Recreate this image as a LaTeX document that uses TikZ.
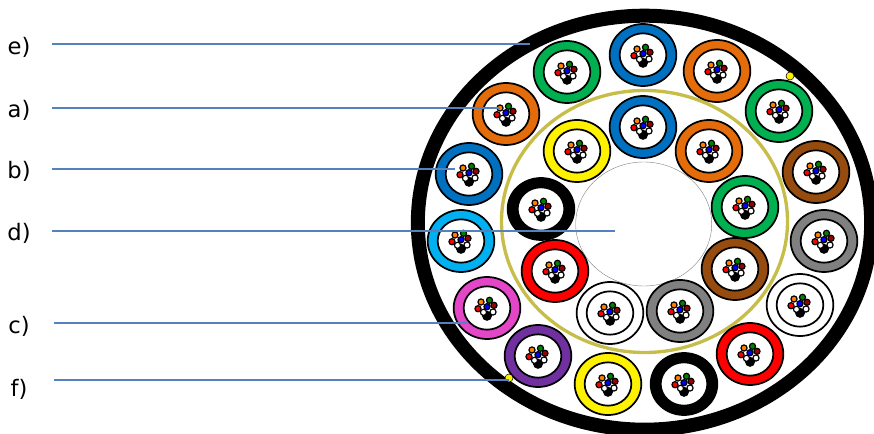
\documentclass[tikz,border=0pt]{standalone}
\usepackage{fontspec}
\setmainfont{DejaVu Sans}
\usepackage{tikz}
\usetikzlibrary{shapes.geometric, positioning}
\definecolor{lineblue}{RGB}{84, 130, 190}
\definecolor{ringgold}{RGB}{198, 190, 72}
\definecolor{tubeblue}{RGB}{0, 112, 192}
\definecolor{tubeorange}{RGB}{228, 108, 10}
\definecolor{tubegreen}{RGB}{0, 176, 80}
\definecolor{tubebrown}{RGB}{150, 75, 15}
\definecolor{tubegray}{RGB}{128, 128, 128}
\definecolor{tubecyan}{RGB}{0, 176, 240}
\definecolor{tubepink}{RGB}{228, 70, 200}
\definecolor{tubepurple}{RGB}{112, 48, 160}

\begin{document}
\begin{tikzpicture}[x=0.75pt, y=-0.75pt,
			lbl/.style={font=\fontsize{17}{20}\selectfont, inner sep=0pt},
			arr/.style={lineblue, line width=1.1pt},
			tube/.style={ellipse, draw=black, line width=1.3pt, inner sep=0pt, minimum width=50pt, minimum height=46.5pt},
			core/.style={ellipse, draw=black, fill=white, line width=1.3pt, inner sep=0pt, minimum width=35pt, minimum height=32.5pt},
			wire/.style={circle, draw=black, line width=0.9pt, inner sep=0pt, minimum size=4.6pt},
			dot/.style={circle, draw=black, fill=yellow, line width=0.4pt, inner sep=0pt, minimum size=6pt}]
	\useasboundingbox (0,0) rectangle (874,434);
	% cable jacket
	\node[ellipse, draw=black, line width=10.5pt, inner sep=0pt, minimum width=340pt, minimum height=310.5pt] (jacket) at (644.5,222.7) {};
	\node[ellipse, draw=ringgold, line width=2.5pt, inner sep=0pt, minimum width=214.5pt, minimum height=196.5pt] (ring) at (644.5,221.5) {};
	\node[ellipse, draw=black!50, line width=0.3pt, inner sep=0pt, minimum width=102pt, minimum height=93pt] (hollow) at (643.7,224) {};
	% tubes
	\foreach \name/\px/\py/\col in {
		oa/643/55/tubeblue, ob/717/71/tubeorange, oc/779/111/tubegreen,
		od/816/172/tubebrown, oe/824/241/tubegray, of/800/305/white,
		og/750/354/red, oh/684/384/black, oi/608/384/yellow,
		oj/538/356/tubepurple, ok/487/308/tubepink, ol/461/241/tubecyan,
		om/469/174/tubeblue, on/506/114/tubeorange, oo/567/72/tubegreen,
		ia/643/127/tubeblue, ib/709/151/tubeorange, ic/745/207/tubegreen,
		id/735/269/tubebrown, ie/680/311/tubegray, if/610/313/white,
		ig/555/271/red, ih/541/209/black, ii/577/151/yellow} {
		\node[tube, fill=\col] (\name) at (\px,\py) {};
		\node[core] (\name core) at (\px,\py) {};
		\node[wire, fill=black, minimum size=6.6pt] at ([shift={(0,7.8)}]\px,\py) {};
		\node[wire, fill=white] at ([shift={(-3.5,4.3)}]\px,\py) {};
		\node[wire, fill=white] at ([shift={(6,4)}]\px,\py) {};
		\node[wire, fill=orange] at ([shift={(-6,-6)}]\px,\py) {};
		\node[wire, fill=green!50!black] at ([shift={(2.5,-7.7)}]\px,\py) {};
		\node[wire, fill=red!60!black] at ([shift={(7,-2.7)}]\px,\py) {};
		\node[wire, fill=red] at ([shift={(-9,0.7)}]\px,\py) {};
		\node[wire, fill=blue] at ([shift={(0,-1.3)}]\px,\py) {};
	}
	% marker dots
	\node[dot] (dota) at (790,76) {};
	\node[dot] (dotb) at (509,378) {};
	% labels
	\node[lbl] (e) at (19,47) {e)};
	\node[lbl] (a) at (19,110) {a)};
	\node[lbl] (b) at (19,171) {b)};
	\node[lbl] (d) at (19,233) {d)};
	\node[lbl] (c) at (19,326) {c)};
	\node[lbl] (f) at (19,389) {f)};
	\coordinate (se) at (52,44);
	\coordinate (sa) at (52,108);
	\coordinate (sb) at (52,169);
	\coordinate (sd) at (52,231);
	\coordinate (sc) at (54,323);
	\coordinate (sf) at (54,380);
	\coordinate (ee) at (530,44);
	\coordinate (ea) at (500,108);
	\coordinate (eb) at (455,169);
	\coordinate (ed) at (615,231);
	\coordinate (ec) at (467,323);
	\coordinate (ef) at (509,380);
	\draw[arr] (se) -- (ee);
	\draw[arr] (sa) -- (ea);
	\draw[arr] (sb) -- (eb);
	\draw[arr] (sd) -- (ed);
	\draw[arr] (sc) -- (ec);
	\draw[arr] (sf) -- (ef);
\end{tikzpicture}
\end{document}
